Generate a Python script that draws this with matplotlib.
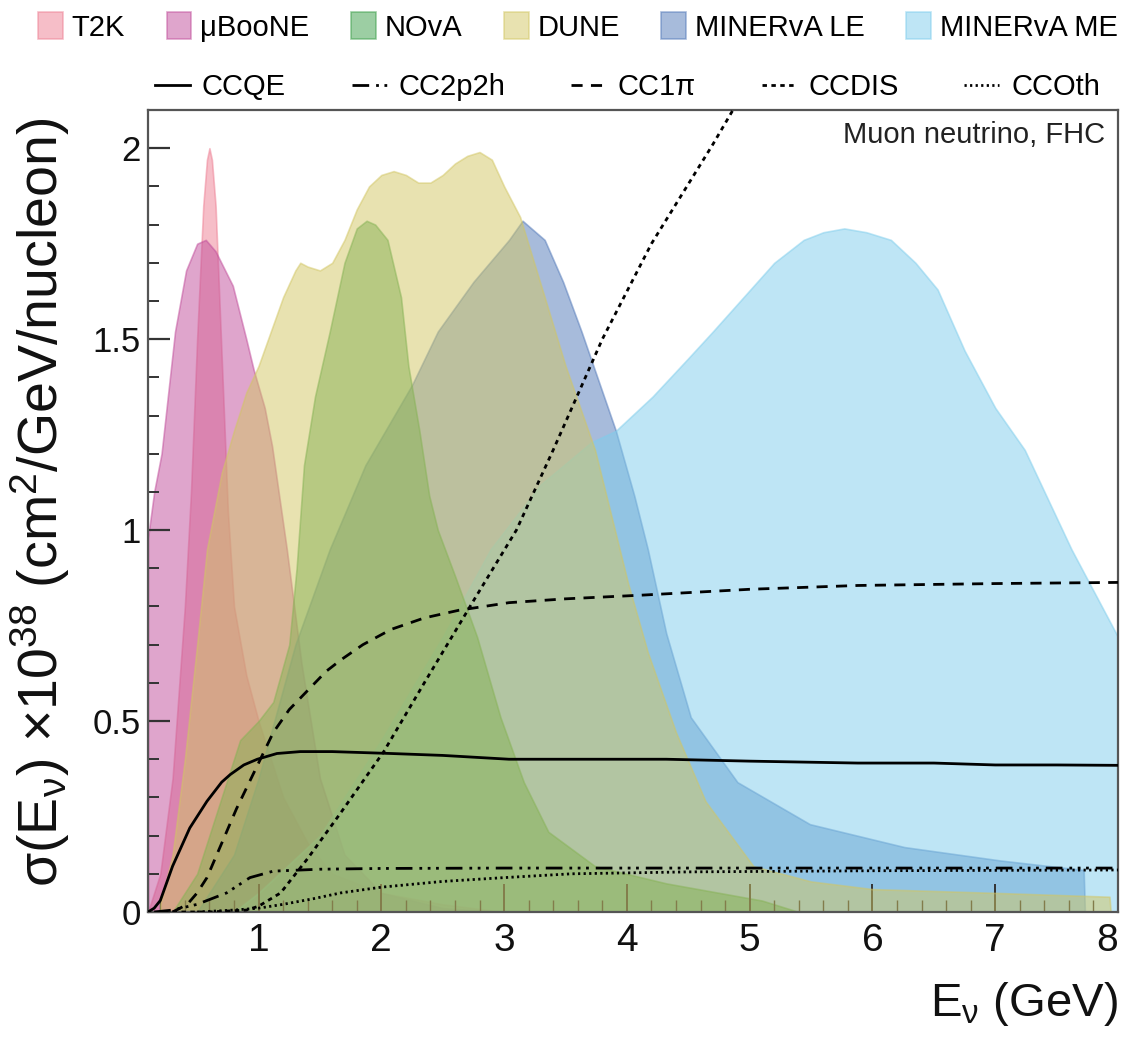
"""Neutrino flux vs cross section plot"""

import matplotlib
matplotlib.use("Agg")
import matplotlib.pyplot as plt
from matplotlib.ticker import MultipleLocator

plt.rcParams["font.family"] = ["Liberation Sans", "DejaVu Sans"]
plt.rcParams["mathtext.fontset"] = "custom"
plt.rcParams["mathtext.rm"] = "Liberation Sans"
plt.rcParams["mathtext.it"] = "Liberation Sans"
plt.rcParams["mathtext.bf"] = "Liberation Sans:bold"

# --- fluxes (arbitrary normalisation) ---
t2k_e = [0.10, 0.20, 0.30, 0.40, 0.45, 0.50, 0.55, 0.58, 0.60, 0.62, 0.65, 0.70, 0.75,
         0.80, 0.90, 1.00, 1.10, 1.20, 1.40, 1.60, 2.00, 2.50, 3.00]
t2k_f = [0.00, 0.10, 0.35, 0.80, 1.10, 1.50, 1.85, 1.97, 2.00, 1.97, 1.85, 1.45, 1.05,
         0.80, 0.62, 0.50, 0.40, 0.30, 0.18, 0.10, 0.05, 0.02, 0.00]

uboone_e = [0.10, 0.15, 0.21, 0.32, 0.41, 0.50, 0.57, 0.65, 0.79, 0.90, 0.96, 1.05,
            1.11, 1.23, 1.35, 1.50, 1.70, 2.00, 2.50, 3.00]
uboone_f = [0.98, 1.10, 1.20, 1.52, 1.68, 1.75, 1.76, 1.73, 1.64, 1.50, 1.42, 1.32,
            1.22, 0.95, 0.65, 0.35, 0.15, 0.05, 0.01, 0.00]

nova_e = [0.30, 0.50, 0.70, 0.85, 1.00, 1.12, 1.25, 1.31, 1.37, 1.46, 1.58, 1.70, 1.80,
          1.88, 1.95, 2.05, 2.16, 2.22, 2.31, 2.39, 2.46, 2.60, 2.78, 2.97, 3.16, 3.36,
          3.74, 4.32, 5.10, 5.40]
nova_f = [0.00, 0.10, 0.30, 0.45, 0.50, 0.55, 0.70, 0.90, 1.17, 1.35, 1.52, 1.70, 1.79,
          1.81, 1.80, 1.76, 1.61, 1.43, 1.26, 1.09, 1.00, 0.88, 0.72, 0.51, 0.34, 0.21,
          0.12, 0.075, 0.03, 0.00]

dune_e = [0.20, 0.30, 0.40, 0.50, 0.58, 0.70, 0.80, 0.90, 1.00, 1.10, 1.20, 1.30, 1.34,
          1.40, 1.50, 1.60, 1.70, 1.80, 1.90, 2.00, 2.10, 2.20, 2.30, 2.40, 2.50, 2.60,
          2.70, 2.80, 2.90, 3.00, 3.13, 3.33, 3.50, 3.74, 4.01, 4.17, 4.40, 4.64, 5.03,
          5.50, 6.00, 7.00, 7.93, 7.94]
dune_f = [0.02, 0.15, 0.40, 0.70, 0.95, 1.15, 1.26, 1.36, 1.43, 1.52, 1.61, 1.68, 1.70,
          1.69, 1.68, 1.70, 1.76, 1.84, 1.90, 1.93, 1.94, 1.93, 1.91, 1.91, 1.93, 1.96,
          1.98, 1.99, 1.97, 1.90, 1.82, 1.61, 1.43, 1.21, 0.86, 0.68, 0.47, 0.29, 0.12,
          0.08, 0.06, 0.05, 0.04, 0.00]

le_e = [0.50, 0.80, 1.00, 1.30, 1.58, 1.87, 2.25, 2.46, 2.75, 3.04, 3.15, 3.33, 3.48,
        3.63, 3.77, 3.91, 4.06, 4.17, 4.32, 4.52, 4.90, 5.49, 6.26, 7.04, 7.72, 7.73]
le_f = [0.00, 0.15, 0.35, 0.70, 0.95, 1.17, 1.38, 1.52, 1.65, 1.76, 1.81, 1.76, 1.65,
        1.52, 1.39, 1.26, 1.09, 0.95, 0.73, 0.51, 0.34, 0.23, 0.17, 0.135, 0.11, 0.00]

me_e = [0.80, 1.00, 1.50, 2.00, 2.50, 2.89, 3.30, 3.71, 3.91, 4.21, 4.50, 4.70, 4.95,
        5.20, 5.44, 5.60, 5.77, 5.95, 6.15, 6.35, 6.53, 6.75, 7.00, 7.24, 7.62, 8.00]
me_f = [0.00, 0.05, 0.20, 0.45, 0.72, 0.95, 1.12, 1.23, 1.26, 1.35, 1.45, 1.52, 1.61,
        1.70, 1.76, 1.78, 1.79, 1.78, 1.76, 1.70, 1.63, 1.47, 1.32, 1.21, 0.95, 0.72]

flux_names = ["T2K", "μBooNE", "NOvA", "DUNE", "MINERvA LE", "MINERvA ME"]
flux_colors = ["#ee7f93", "#c04c9a", "#3a9e48", "#d2c663", "#5178b8", "#7fcdec"]
# stacking: T2K/uBooNE at the back, DUNE in front
flux_z = [1.0, 1.1, 1.5, 1.6, 1.3, 1.4]

# --- cross sections ---
ccqe_e = [0.10, 0.15, 0.20, 0.30, 0.44, 0.58, 0.70, 0.77, 0.88, 0.99, 1.15, 1.34, 1.60,
          2.08, 2.50, 3.04, 3.50, 4.32, 5.00, 5.88, 6.50, 7.00, 7.50, 8.00]
ccqe_xs = [0.00, 0.01, 0.03, 0.12, 0.22, 0.29, 0.34, 0.36, 0.385, 0.40, 0.415, 0.42, 0.42,
           0.415, 0.41, 0.40, 0.40, 0.40, 0.395, 0.39, 0.39, 0.385, 0.385, 0.384]

cc2p2h_e = [0.15, 0.30, 0.50, 0.74, 0.93, 1.12, 1.50, 2.00, 3.00, 4.00, 5.00, 6.00, 7.00, 8.00]
cc2p2h_xs = [0.00, 0.005, 0.02, 0.05, 0.09, 0.107, 0.112, 0.114, 0.115, 0.115, 0.115,
             0.115, 0.115, 0.115]

cc1pi_e = [0.30, 0.42, 0.50, 0.58, 0.66, 0.74, 0.82, 0.91, 1.00, 1.12, 1.25, 1.40, 1.55,
           1.67, 1.85, 2.08, 2.35, 2.63, 3.04, 3.50, 4.14, 5.00, 5.88, 7.00, 8.00]
cc1pi_xs = [0.00, 0.02, 0.05, 0.09, 0.15, 0.21, 0.27, 0.33, 0.39, 0.47, 0.53, 0.58, 0.63,
            0.66, 0.70, 0.74, 0.77, 0.79, 0.81, 0.82, 0.83, 0.845, 0.855, 0.86, 0.863]

ccdis_e = [0.30, 0.60, 0.90, 1.00, 1.18, 1.40, 1.67, 2.02, 2.35, 2.76, 3.10, 3.40, 3.80,
           4.20, 4.70, 4.90]
ccdis_xs = [0.00, 0.00, 0.005, 0.015, 0.05, 0.14, 0.26, 0.42, 0.60, 0.82, 1.00, 1.21, 1.50,
            1.75, 2.01, 2.12]

ccoth_e = [0.50, 0.80, 1.00, 1.20, 1.45, 1.67, 2.00, 2.50, 3.00, 3.55, 4.50, 6.00, 8.00]
ccoth_xs = [0.00, 0.005, 0.01, 0.02, 0.035, 0.05, 0.065, 0.08, 0.09, 0.10, 0.105, 0.108, 0.11]

xs_names = ["CCQE", "CC2p2h", "CC1π", "CCDIS", "CCOth"]

x_ticks = [1, 2, 3, 4, 5, 6, 7, 8]
y_ticks = [0, 0.5, 1, 1.5, 2]
y_ticklabels = ["0", "0.5", "1", "1.5", "2"]


fig = plt.figure(figsize=(11.24, 10.38), dpi=100)
ax = fig.add_axes([0.1317, 0.1214, 0.863, 0.7726])

fluxes = [(t2k_e, t2k_f), (uboone_e, uboone_f), (nova_e, nova_f),
          (dune_e, dune_f), (le_e, le_f), (me_e, me_f)]
fills = []
for (e, f), c, z in zip(fluxes, flux_colors, flux_z):
    h = ax.fill_between(e, f, 0, facecolor=c, alpha=0.5, edgecolor=c, linewidth=1.2, zorder=z)
    fills.append(h)

styles = ["-", (0, (6, 2.5, 1, 2, 1, 2, 1, 2.5)), (0, (4, 3)), (0, (1.6, 1.6)), (0, (0.8, 1.2))]
xs_data = [(ccqe_e, ccqe_xs), (cc2p2h_e, cc2p2h_xs), (cc1pi_e, cc1pi_xs),
           (ccdis_e, ccdis_xs), (ccoth_e, ccoth_xs)]
lines = []
for (e, s), ls in zip(xs_data, styles):
    ln, = ax.plot(e, s, color="black", linestyle=ls, linewidth=2.0, zorder=3)
    lines.append(ln)

ax.set_xlim(0.1, 8.0)
ax.set_ylim(0, 2.1)
ax.set_xticks(x_ticks)
ax.xaxis.set_minor_locator(MultipleLocator(0.2))
ax.set_yticks(y_ticks)
ax.set_yticklabels(y_ticklabels)
ax.yaxis.set_minor_locator(MultipleLocator(0.1))

ax.tick_params(axis="both", which="both", direction="in", top=False, right=False,
               colors="#333333", labelcolor="#111111")
ax.tick_params(axis="x", which="major", length=20, width=1.4, labelsize=28, pad=8)
ax.tick_params(axis="x", which="minor", length=9, width=1.0)
ax.tick_params(axis="y", which="major", length=16, width=1.6, labelsize=25, pad=5)
ax.tick_params(axis="y", which="minor", length=8, width=1.4)
for sp in ax.spines.values():
    sp.set_color("#555555")
    sp.set_linewidth(1.6)

# keep the last label inside the figure
ax.xaxis.get_major_ticks()[-1].label1.set_horizontalalignment("right")

ax.set_xlabel(r"E$_{\nu}$ (GeV)", fontsize=34, ha="right", va="top", color="#111111")
ax.xaxis.set_label_coords(1.0, -0.085)
ax.set_ylabel(r"$\sigma$(E$_{\nu}$) $\times$10$^{38}$ (cm$^{2}$/GeV/nucleon)",
              fontsize=40, ha="right", color="#111111")
ax.yaxis.set_label_coords(-0.078, 0.99)

ax.text(0.987, 0.969, "Muon neutrino, FHC", transform=ax.transAxes, ha="right",
        va="center", fontsize=21, color="#222222")

fig.legend(fills, flux_names, ncol=6, loc="center", mode="expand",
           bbox_to_anchor=(38 / 1124, 0.954, 1080 / 1124, 0.04), frameon=False,
           fontsize=21, handlelength=0.85, handleheight=1.0, handletextpad=0.3,
           borderaxespad=0, borderpad=0)
fig.legend(lines, xs_names, ncol=5, loc="center", mode="expand",
           bbox_to_anchor=(155 / 1124, 0.896, 945 / 1124, 0.04), frameon=False,
           fontsize=21, handlelength=1.2, handletextpad=0.4,
           borderaxespad=0, borderpad=0)

fig.savefig("out.png", dpi=100)
